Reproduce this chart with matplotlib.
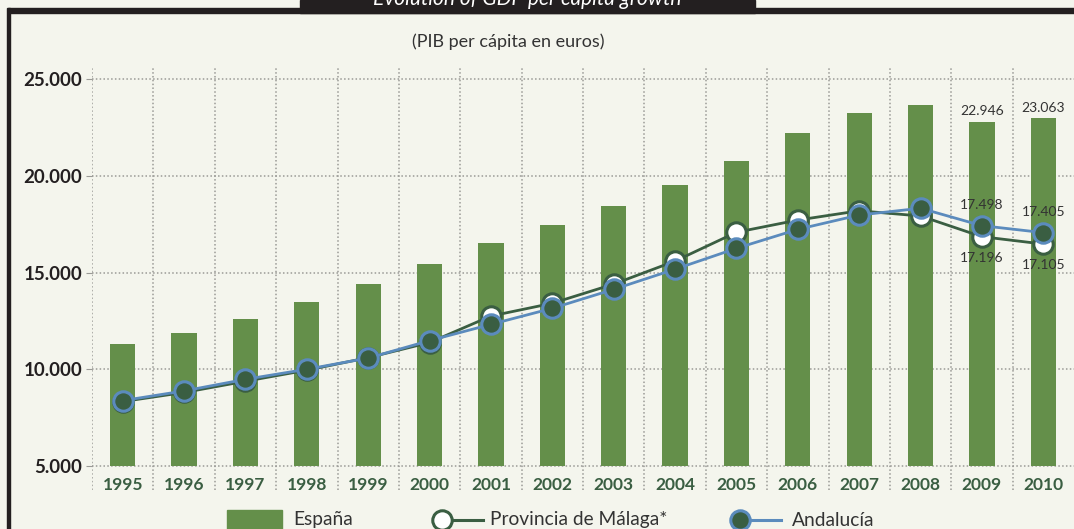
import matplotlib
matplotlib.use("Agg")
import matplotlib.pyplot as plt
from matplotlib.patches import Rectangle
from matplotlib.lines import Line2D

# ---- data ----
years = [1995, 1996, 1997, 1998, 1999, 2000, 2001, 2002, 2003, 2004,
         2005, 2006, 2007, 2008, 2009, 2010]
espana = [11300, 11880, 12580, 13450, 14380, 15460, 16550, 17470, 18450, 19540,
          20770, 22220, 23250, 23660, 22800, 23000]
malaga = [8330, 8800, 9380, 9950, 10600, 11380, 12750, 13410, 14400, 15590,
          17080, 17710, 18190, 17920, 16850, 16470]
andalucia = [8380, 8880, 9480, 10000, 10580, 11480, 12320, 13150, 14130, 15170,
             16250, 17230, 17970, 18320, 17420, 17060]
yticks = [5000, 10000, 15000, 20000, 25000]
ytick_labels = ["5.000", "10.000", "15.000", "20.000", "25.000"]
bar_labels = {14: "22.946", 15: "23.063"}
and_labels = {14: "17.498", 15: "17.405"}
mal_labels = {14: "17.196", 15: "17.105"}
series_names = ["España", "Provincia de Málaga*", "Andalucía"]
title = "Evolution of GDP per capita growth"
subtitle = "(PIB per cápita en euros)"

# ---- style ----
BG = "#f4f5ed"
BAR = "#648f4a"
DKGREEN = "#3a5e42"
BLUE = "#5b8bbd"
GRID = "#9a9a96"
FONT = ["Lato", "DejaVu Sans"]
plt.rcParams["font.family"] = FONT

W, H = 1074, 529
fig = plt.figure(figsize=(W / 100, H / 100), dpi=100, facecolor=BG)

def fx(px):
    return px / W

def fy(py):
    return 1 - py / H

# frame decorations
fig.patches.append(Rectangle((fx(8), fy(13)), fx(1074 - 8), 5.5 / H,
                             transform=fig.transFigure, color="#231f20", zorder=5))
fig.patches.append(Rectangle((fx(7), 0), fx(3), fy(8),
                             transform=fig.transFigure, color="#231f20", zorder=5))
fig.patches.append(Rectangle((fx(300), fy(13)), fx(455), 13 / H,
                             transform=fig.transFigure, color="#231f20", zorder=5))
fig.text(fx(527), fy(-1), title, color="white", fontsize=15, style="italic",
         ha="center", va="center", zorder=6)
fig.text(fx(508), fy(42), subtitle, color="#333333", fontsize=13,
         ha="center", va="center")

# axes
ax_left, ax_right = 92, 1074
ax_top, ax_bot = 68, 490
ax = fig.add_axes([fx(ax_left), fy(ax_bot), fx(ax_right - ax_left), (ax_bot - ax_top) / H])
ax.set_facecolor(BG)
per_px = 20000 / 387.0
ax.set_ylim(5000 - 24 * per_px, 25000 + 11 * per_px)
ax.set_xlim(-0.5, 15.5)
for s in ax.spines.values():
    s.set_visible(False)

x = list(range(len(years)))

# grid
for v in yticks:
    ax.axhline(v, color=GRID, lw=1.1, ls=(0, (1, 1.5)), zorder=1)
for i in range(len(years)):
    ax.axvline(i - 0.5, color=GRID, lw=1.1, ls=(0, (1, 1.5)), zorder=1)

ax.set_yticks(yticks)
ax.set_yticklabels(ytick_labels, fontsize=13.5, fontweight="bold", color="#231f20")
ax.tick_params(axis="y", length=4, color=GRID, pad=3)
ax.set_xticks([])

# bars
ax.bar(x, [e - 5000 for e in espana], bottom=5000, width=0.41, color=BAR, zorder=2)

# lines
ax.plot(x, malaga, color=DKGREEN, lw=2.0, marker="o", markersize=14,
        markerfacecolor="white", markeredgecolor=DKGREEN, markeredgewidth=2.2, zorder=3)
ax.plot(x, andalucia, color=BLUE, lw=2.0, marker="o", markersize=14,
        markerfacecolor=DKGREEN, markeredgecolor=BLUE, markeredgewidth=2.2, zorder=4)

# year labels
for i, yr in enumerate(years):
    ax.text(i, 5000 - 11 * per_px, str(yr), ha="center", va="top", fontsize=12.5,
            fontweight="bold", color=DKGREEN)

# value labels
for i, t in bar_labels.items():
    ax.annotate(t, (i, espana[i]), xytext=(0, 3), textcoords="offset points",
                ha="center", va="bottom", fontsize=10, color="#333333")
for i, t in and_labels.items():
    ax.annotate(t, (i, andalucia[i]), xytext=(0, 15), textcoords="offset points",
                ha="center", va="center", fontsize=10, color="#333333")
for i, t in mal_labels.items():
    ax.annotate(t, (i, malaga[i]), xytext=(0, -15), textcoords="offset points",
                ha="center", va="center", fontsize=10, color="#333333")

# legend (manual)
ly = fy(520)
fig.patches.append(Rectangle((fx(227), fy(531)), fx(55), 21 / H,
                             transform=fig.transFigure, color=BAR))
fig.text(fx(293), ly, series_names[0], fontsize=13.8, color="#333333", va="center")
fig.lines.append(Line2D([fx(442), fx(483)], [ly, ly], transform=fig.transFigure,
                        color=DKGREEN, lw=2.2))
fig.lines.append(Line2D([fx(442)], [ly], transform=fig.transFigure, marker="o",
                        markersize=14, markerfacecolor="white", markeredgecolor=DKGREEN,
                        markeredgewidth=2.2))
fig.text(fx(490), ly, series_names[1], fontsize=13.8, color="#333333", va="center")
fig.lines.append(Line2D([fx(740), fx(781)], [ly, ly], transform=fig.transFigure,
                        color=BLUE, lw=2.2))
fig.lines.append(Line2D([fx(740)], [ly], transform=fig.transFigure, marker="o",
                        markersize=14, markerfacecolor=DKGREEN, markeredgecolor=BLUE,
                        markeredgewidth=2.2))
fig.text(fx(792), ly, series_names[2], fontsize=13.8, color="#333333", va="center")

fig.savefig("out.png", dpi=100, facecolor=BG)
